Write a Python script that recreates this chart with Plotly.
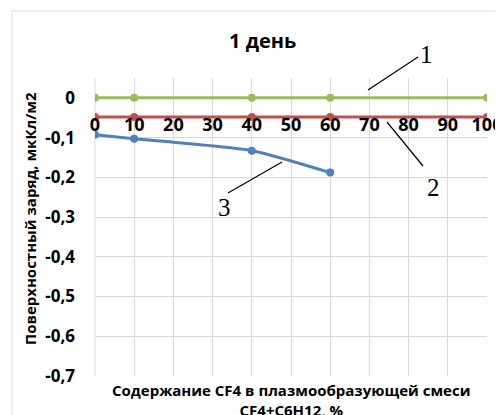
import plotly.graph_objects as go

x_vals = [0, 10, 40, 60, 100]
x_vals_3 = [0, 10, 40, 60]
series1 = [0, 0, 0, 0, 0]
series2 = [-0.048, -0.048, -0.048, -0.048, -0.048]
series3 = [-0.093, -0.103, -0.133, -0.188]
y_ticks = [0, -0.1, -0.2, -0.3, -0.4, -0.5, -0.6, -0.7]
y_ticktext = ["0", "-0,1", "-0,2", "-0,3", "-0,4", "-0,5", "-0,6", "-0,7"]
x_ticks = [0, 10, 20, 30, 40, 50, 60, 70, 80, 90, 100]

# reference pixel geometry of plot area
PL, PR, PT, PB = 95, 487, 78, 376
def px(x):
    return (x - PL) / (PR - PL)
def py(y):
    return (PB - y) / (PB - PT)

fig = go.Figure()
fig.add_trace(go.Scatter(x=x_vals, y=series1, mode="lines+markers",
                         line=dict(color="#9BBB59", width=3), marker=dict(size=8, color="#9BBB59")))
fig.add_trace(go.Scatter(x=x_vals, y=series2, mode="lines+markers",
                         line=dict(color="#C0504D", width=3), marker=dict(size=8, color="#C0504D")))
fig.add_trace(go.Scatter(x=x_vals_3, y=series3, mode="lines+markers",
                         line=dict(color="#4F81BD", width=3, shape="spline", smoothing=0.6),
                         marker=dict(size=8, color="#4F81BD")))

font_main = "'Open Sans', sans-serif"
OFF = 8  # default body margin of the html page
W, H = 503 - OFF, 415 - OFF
fig.update_layout(
    width=W, height=H,
    margin=dict(l=PL - OFF, r=W - (PR - OFF), t=PT - OFF, b=H - (PB - OFF), autoexpand=False),
    paper_bgcolor="white", plot_bgcolor="white",
    showlegend=False,
    font=dict(family=font_main, color="#000000"),
    xaxis=dict(range=[0, 100], tickvals=x_ticks, showgrid=True, gridcolor="#D9D9D9", gridwidth=1,
               zeroline=False, showline=False, anchor="free", position=0.9333, side="bottom",
               ticklabelstandoff=14,
               tickfont=dict(family=font_main, size=18, color="#000000", weight="bold")),
    yaxis=dict(range=[-0.7, 0.05], tickvals=y_ticks, ticktext=y_ticktext, showgrid=True,
               gridcolor="#D9D9D9", gridwidth=1, zeroline=False, showline=False,
               ticklabelstandoff=19,
               tickfont=dict(family=font_main, size=17, color="#000000", weight="bold")),
)

# chart area border
fig.add_shape(type="rect", xref="paper", yref="paper", x0=px(12), y0=py(440), x1=px(520), y1=py(11),
              line=dict(color="#D9D9D9", width=1), fillcolor="rgba(0,0,0,0)", layer="below")
fig.add_shape(type="line", xref="paper", yref="paper", x0=0, x1=0, y0=0, y1=1,
              line=dict(color="#D9D9D9", width=1), layer="below")

# leader lines
for (x0, y0, x1, y1) in [(368, 90, 418, 57), (387, 122, 423, 166), (282, 162, 228, 193)]:
    fig.add_shape(type="line", xref="paper", yref="paper", x0=px(x0), y0=py(y0), x1=px(x1), y1=py(y1),
                  line=dict(color="#000000", width=1.2))

serif = "'Liberation Serif', 'Times New Roman', serif"
for (tx, ty, t) in [(426, 55, "1"), (433, 187, "2"), (224, 207, "3")]:
    fig.add_annotation(x=px(tx), y=py(ty), xref="paper", yref="paper", text=t, showarrow=False,
                       xanchor="center", yanchor="middle",
                       font=dict(family=serif, size=25, color="#000000"))

fig.add_annotation(x=px(262), y=py(40), xref="paper", yref="paper",
                   text="<b>1 день</b>", showarrow=False, xanchor="center", yanchor="middle",
                   font=dict(family=font_main, size=20, color="#000000"))
fig.add_annotation(x=px(30), y=py(219), xref="paper", yref="paper",
                   text="<b>Поверхностный заряд, мкКл/м2</b>", showarrow=False, textangle=-90,
                   xanchor="center", yanchor="middle",
                   font=dict(family=font_main, size=15, color="#000000"))
fig.add_annotation(x=px(291), y=py(400), xref="paper", yref="paper",
                   text="<b>Содержание CF4 в плазмообразующей смеси<br>CF4+C6H12, %</b>",
                   showarrow=False, xanchor="center", yanchor="middle",
                   font=dict(family=font_main, size=15, color="#000000"))

fig.write_html("out.html")
